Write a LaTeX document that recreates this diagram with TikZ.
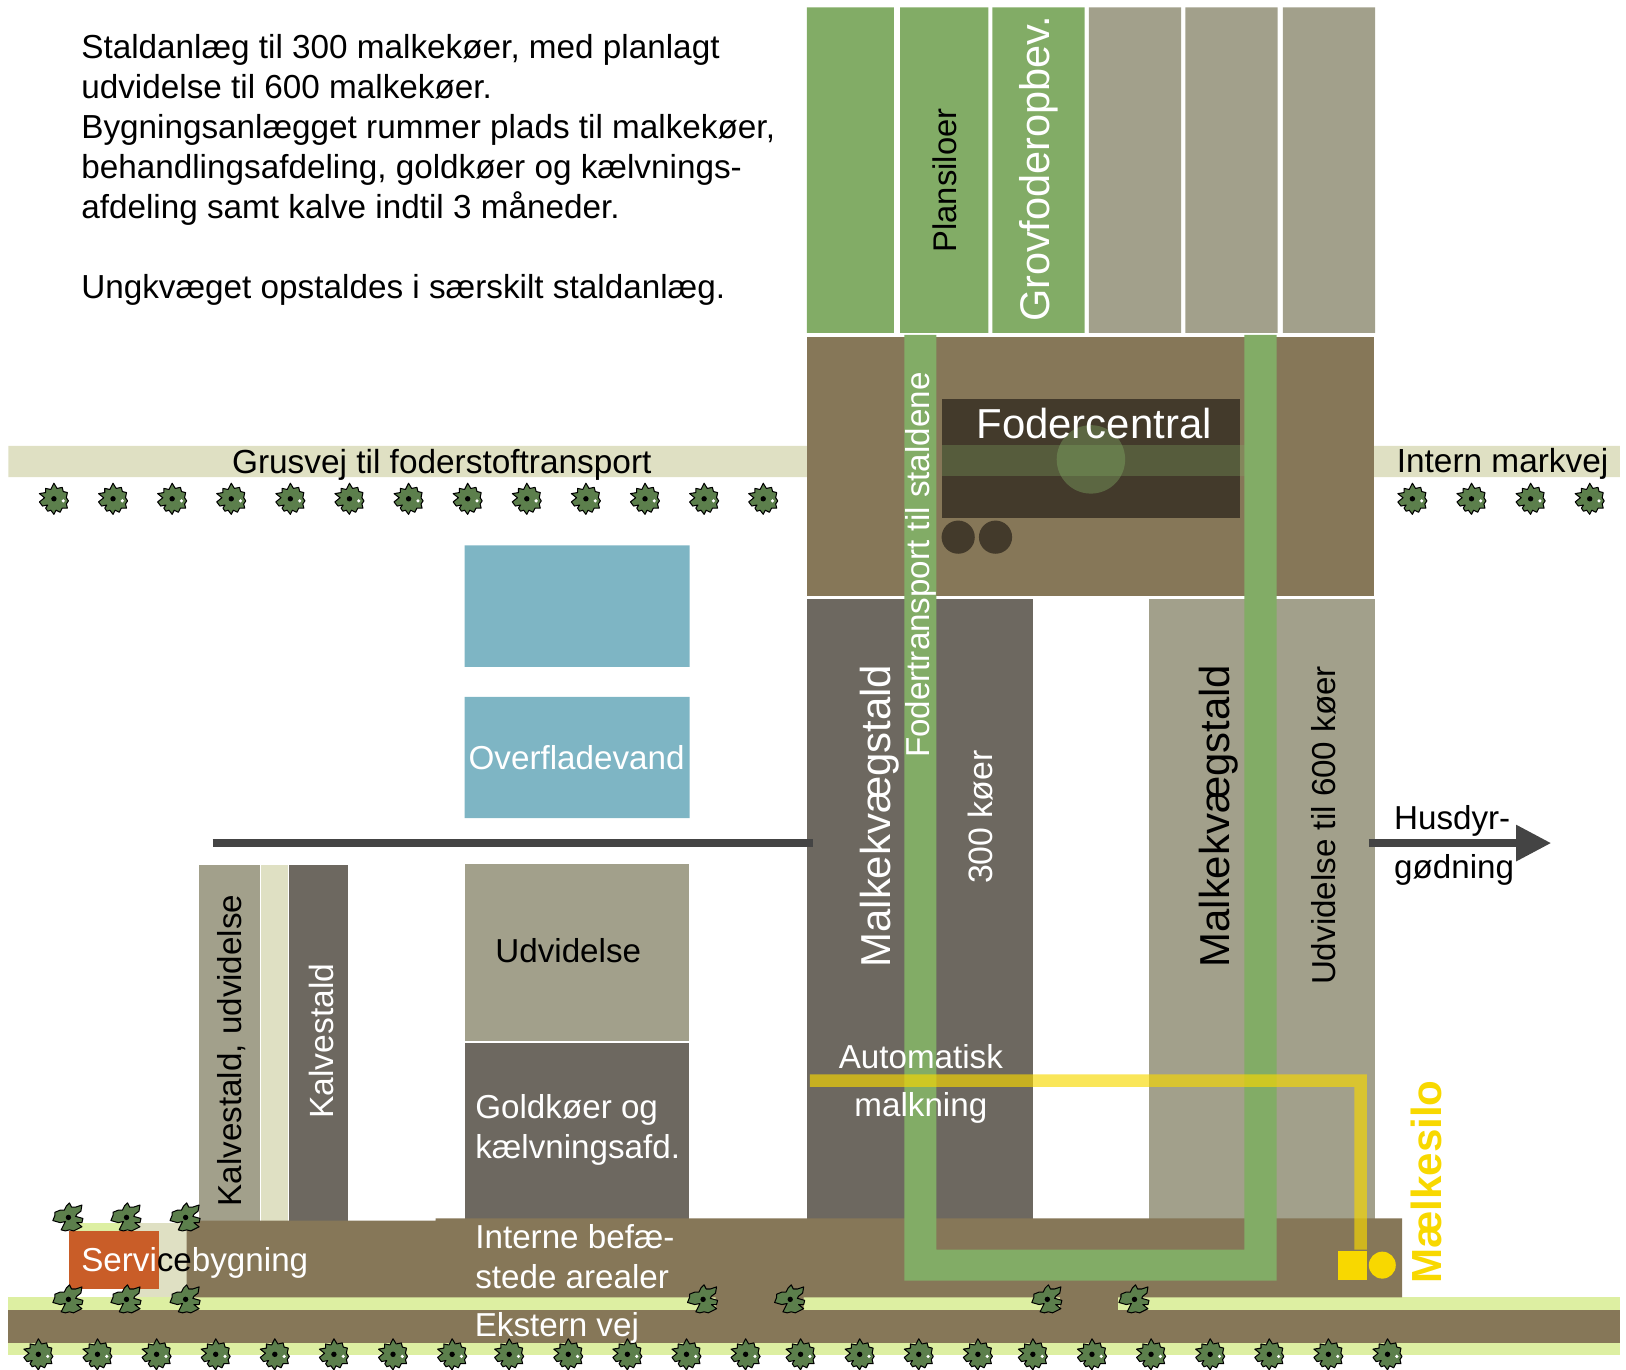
\documentclass[tikz,border=0pt]{standalone}
\usepackage{fontspec}
\setmainfont{Liberation Sans}
\usetikzlibrary{arrows.meta}
\definecolor{grn}{HTML}{82AC66}
\definecolor{gry}{HTML}{A2A08B}
\definecolor{drk}{HTML}{6D6860}
\definecolor{brn}{HTML}{867758}
\definecolor{fod}{HTML}{433A2B}
\definecolor{blu}{HTML}{7EB5C4}
\definecolor{grv}{HTML}{DFE0C3}
\definecolor{lgn}{HTML}{DDEFA2}
\definecolor{org}{HTML}{C95D28}
\definecolor{yel}{HTML}{F8D800}
\definecolor{tre}{HTML}{5C7F4C}
\definecolor{lin}{HTML}{444444}
\newcommand{\fs}[1]{\fontsize{#1}{#1}\selectfont}
\newcommand{\treeat}[2]{%
  \begin{scope}[shift={(#1,#2)}]
    \draw[fill=tre,draw=black,line width=.5pt,line join=round]
      (1,-14)--(3,-10)--(7,-10)--(13,-12)--(12,-6)--(8,-3)--(7,-1)--(14,1)--(13,5)--(8,5)--(13,9)--(9,11)--(5,13)--(1,12)--(-3,13)--(-7,12)--(-5,8)--(-3,4)--(-8,5)--(-15,3)--(-13,-2)--(-13,-5)--(-8,-7)--(-4,-7)--(-2,-11)--cycle;
    \fill[black] (0,0) circle (2.6);
  \end{scope}}
\newcommand{\bushat}[2]{%
  \begin{scope}[shift={(#1,#2)}]
    \draw[fill=tre,draw=black,line width=.5pt,line join=round]
      (0,-15)--(3,-10)--(8,-11)--(9,-7)--(13,-6)--(12,-1)--(14,2)--(12,5)--(13,9)--(8,9)--(6,13)--(2,11)--(0,15)--(-3,11)--(-6,12)--(-8,9)--(-6,6)--(-11,7)--(-14,3)--(-9,-1)--(-14,-5)--(-8,-6)--(-8,-10)--(-3,-9)--cycle;
    \fill[black] (0,0) circle (2.6);
    \fill[white] (9,2) circle (1.7);
  \end{scope}}
\tikzset{x=.5pt,y=-.5pt,
  lbl/.style={inner sep=0pt,font=\fs{16}},
  wl/.style={lbl,text=white},
  bl/.style={lbl,text=black},
  rot/.style={rotate=90}}
\begin{document}
\begin{tikzpicture}
\useasboundingbox (0,0) rectangle (1568,1321);
% silos
\fill[grn] (778,7) rectangle (862,321) (868,7) rectangle (953,321) (957,7) rectangle (1046,321);
\fill[gry] (1050,7) rectangle (1139,321) (1143,7) rectangle (1232,321) (1237,7) rectangle (1326,321);
% gravel roads
\fill[grv] (8,430) rectangle (778,460) (1325,430) rectangle (1562,460);
% feed central
\fill[brn] (778,325) rectangle (1325,575);
\fill[fod] (908,385) rectangle (1196,500);
\fill[fod] (924,518) circle (16) (960,518) circle (16);
% barns
\fill[drk] (778,578) rectangle (996,1177);
\fill[gry] (1108,578) rectangle (1326,1177);
% water
\fill[blu] (448,526) rectangle (665,643) (448,672) rectangle (665,789);
% extension + dry cows
\fill[gry] (448,833) rectangle (664,1004);
\fill[drk] (448,1006) rectangle (664,1177);
% calves
\fill[gry] (192,834) rectangle (251,1179);
\fill[grv] (252,834) rectangle (278,1177);
\fill[drk] (279,834) rectangle (336,1179);
% yards & roads
\fill[lgn] (8,1251) rectangle (1562,1263);
\fill[lgn] (68,1179) rectangle (130,1200);
\fill[grv] (130,1179) rectangle (180,1251);
\fill[brn] (180,1177) rectangle (1352,1251) (420,1175) rectangle (1352,1178);
\fill[brn] (690,1249) rectangle (775,1265) (1022,1249) rectangle (1078,1265);
\fill[brn] (8,1263) rectangle (1562,1295);
\fill[lgn] (8,1295) rectangle (1562,1307);
\fill[org] (67,1187) rectangle (153,1243);
% feed transport
\fill[grn] (872,323) -- (903,323) -- (903,1205) -- (1200,1205) -- (1200,323) -- (1231,323) -- (1231,1235) -- (872,1235) -- cycle;
\fill[grn,opacity=.3] (908,429) rectangle (1201,459);
\fill[grn,opacity=.4] (1052,443) circle (33);
% manure line and arrow
\coordinate (lineA) at (205,813);
\coordinate (lineB) at (784,813);
\coordinate (arrA) at (1320,813);
\coordinate (arrB) at (1496,813);
\draw[lin,line width=4pt] (lineA) -- (lineB);
\draw[lin,line width=4pt,-{Triangle[length=17pt,width=16.5pt]}] (arrA) -- (arrB);
% milk
\fill[yel,opacity=.65] (781,1036) -- (1318,1036) -- (1318,1205) -- (1306,1205) -- (1306,1048) -- (781,1048) -- cycle;
\fill[yel] (1290,1206) rectangle (1318,1234);
\fill[yel] (1333,1220) circle (13);
% trees
\foreach \tx in {52,109,166,223,280,337,394,451,508,565,622,679,736,1362,1419,1476,1533}
  {\bushat{\tx}{481}}
\foreach \tx in {66,122,179} {\treeat{\tx}{1174}\treeat{\tx}{1253}}
\foreach \tx in {678,762,1010,1094} {\treeat{\tx}{1253}}
\foreach \tx in {37,94,151,208,265,322,379,436,491,548,605,662,719,772,829,886,943,996,1053,1110,1167,1224,1281,1338}
  {\bushat{\tx}{1306}}
% labels
\node[bl,anchor=north west,align=left,font=\fs{16.05}\setlength{\baselineskip}{19.25pt}] (intro) at (78,33)
 {Staldanlæg til 300 malkekøer, med planlagt\\
  udvidelse til 600 malkekøer.\\
  Bygningsanlægget rummer plads til malkekøer,\\
  behandlingsafdeling, goldkøer og kælvnings-\\
  afdeling samt kalve indtil 3 måneder.\\[19.25pt]
  Ungkvæget opstaldes i særskilt staldanlæg.};
\node[bl,rot,font=\fs{15.8}] (plansilo) at (911,174) {Plansiloer};
\node[wl,rot,font=\fs{20}] (grov) at (1002,163) {Grovfoderopbev.};
\node[wl,font=\fs{20.2}] (fodc) at (1055,408) {Fodercentral};
\node[bl,font=\fs{16.1}] (grus) at (426,448) {Grusvej til foderstoftransport};
\node[bl,font=\fs{16.1}] (mark) at (1449,447) {Intern markvej};
\node[wl,rot,font=\fs{16}] (fodt) at (888,545) {Fodertransport til staldene};
\node[wl,rot,font=\fs{20.2}] (mk1) at (848,787) {Malkekvægstald};
\node[wl,rot,font=\fs{16.3}] (k300) at (946,788) {300 køer};
\node[bl,rot,font=\fs{20.2}] (mk2) at (1175,787) {Malkekvægstald};
\node[bl,rot,font=\fs{16}] (udv600) at (1277,796) {Udvidelse til 600 køer};
\node[wl,font=\fs{16}] (over) at (556,731) {Overfladevand};
\node[bl,font=\fs{16}] (udv) at (548,917) {Udvidelse};
\node[wl,align=left,anchor=west,font=\fs{16}\setlength{\baselineskip}{19.25pt}] (gold) at (458,1090) {Goldkøer og\\kælvningsafd.};
\node[bl,rot,font=\fs{16}] (kalvu) at (223,1013) {Kalvestald, udvidelse};
\node[wl,rot,font=\fs{16.2}] (kalv) at (310,1004) {Kalvestald};
\node[bl,align=left,anchor=west,font=\fs{16}\setlength{\baselineskip}{23.5pt}] (husd) at (1344,815) {Husdyr-\\gødning};
\node[wl,align=center,font=\fs{16}\setlength{\baselineskip}{23pt}] (auto) at (888,1045) {Automatisk\\malkning};
\node[wl,anchor=west,font=\fs{16}] (serv) at (78,1218) {Servi\textcolor{black}{ce}bygning};
\node[wl,align=left,anchor=west,font=\fs{16}\setlength{\baselineskip}{19.25pt}] (intern) at (458,1212) {Interne befæ-\\stede arealer};
\node[wl,font=\fs{16}] (ekst) at (537,1281) {Ekstern vej};
\node[lbl,rot,text=yel,font=\fs{20.3}\bfseries] (silo) at (1376,1140) {Mælkesilo};
\end{tikzpicture}
\end{document}
